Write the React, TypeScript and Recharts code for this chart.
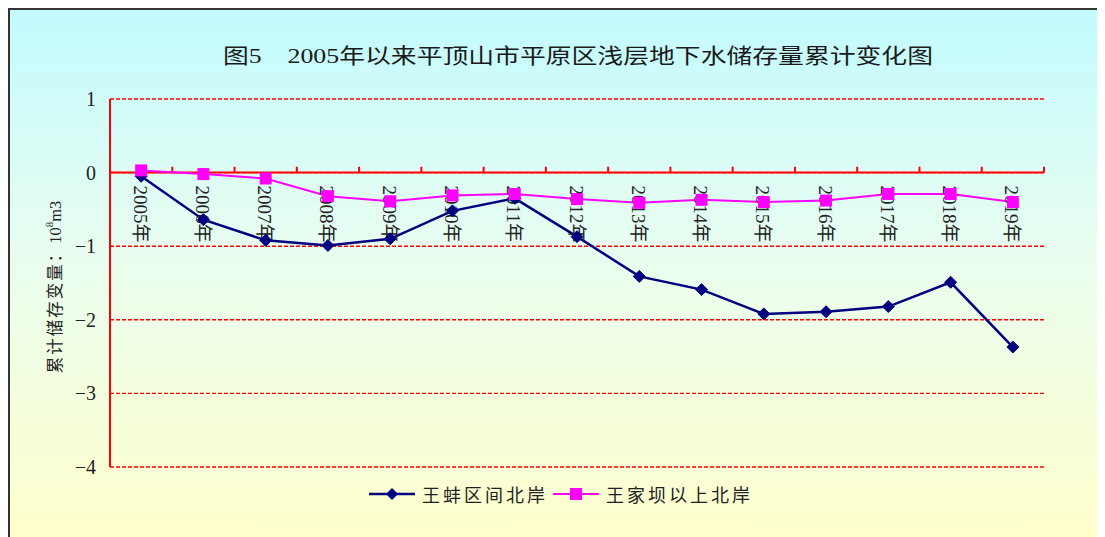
import React from 'react';
import {
  ComposedChart,
  Line,
  Scatter,
  XAxis,
  YAxis,
  CartesianGrid,
  ReferenceLine,
  Legend,
} from 'recharts';

const years = [
  '2005年', '2006年', '2007年', '2008年', '2009年', '2010年', '2011年', '2012年',
  '2013年', '2014年', '2015年', '2016年', '2017年', '2018年', '2019年',
];
const wangbeng = [
  -0.05, -0.64, -0.92, -0.99, -0.9, -0.52, -0.35, -0.87, -1.41, -1.59, -1.92, -1.89, -1.82, -1.49, -2.37,
];
const wangjiaba = [
  0.03, -0.02, -0.08, -0.32, -0.39, -0.31, -0.29, -0.36, -0.41, -0.37, -0.4, -0.38, -0.29, -0.29, -0.4,
];
const yTicks = [-4, -3, -2, -1, 0, 1];
const seriesNames = ['王蚌区间北岸', '王家坝以上北岸'];
const titleText = '图5　2005年以来平顶山市平原区浅层地下水储存量累计变化图';
const yLabelMain = '累计储存变量：';
const yLabelUnit = ['10', '8', 'm3'];

const rows = years.map((year, i) => ({
  year,
  pos: i + 0.5,
  wangbeng: wangbeng[i],
  wangjiaba: wangjiaba[i],
  zero: 0,
}));
const boundaries = Array.from({ length: years.length + 1 }, (_, i) => i);

const BLUE = '#000080';
const MAGENTA = '#ff00ff';
const RED = '#ff0000';
const SERIF = 'Liberation Serif, Times New Roman, DejaVu Serif, Noto Sans CJK SC, serif';
const CJK = 'Noto Sans CJK SC, sans-serif';

const Diamond = ({ cx, cy, r = 6 }: any) => (
  <polygon
    points={`${cx},${cy - r} ${cx + r},${cy} ${cx},${cy + r} ${cx - r},${cy}`}
    fill={BLUE}
    stroke={BLUE}
    strokeWidth={1}
  />
);
const Square = ({ cx, cy, r = 6 }: any) => (
  <rect x={cx - r} y={cy - r} width={2 * r} height={2 * r} fill={MAGENTA} />
);

const CategoryLabel = (props: any) => {
  const { cx, cy, payload } = props;
  if (cx == null || cy == null) return null;
  const x = cx - 1;
  const y = cy + 13;
  return (
    <text
      x={x}
      y={y}
      transform={`rotate(90 ${x} ${y})`}
      textAnchor="start"
      dominantBaseline="central"
      style={{ fontFamily: SERIF, fontSize: 19 }}
      fill="#222"
    >
      {payload.year}
    </text>
  );
};

const YTick = (props: any) => {
  const { x, y, payload } = props;
  const v = payload.value;
  return (
    <text
      x={x}
      y={y}
      textAnchor="end"
      dominantBaseline="central"
      style={{ fontFamily: SERIF, fontSize: 20 }}
      fill="#222"
    >
      {v < 0 ? '−' + Math.abs(v) : String(v)}
    </text>
  );
};

const LegendContent = () => (
  <div
    style={{
      display: 'flex',
      justifyContent: 'center',
      alignItems: 'center',
      height: 24,
      lineHeight: '24px',
      paddingLeft: 7,
      fontFamily: CJK,
      fontSize: 18,
      color: '#222',
    }}
  >
    {seriesNames.map((name, i) => (
      <div key={name} style={{ display: 'flex', alignItems: 'center', marginRight: i === 0 ? 5 : 0 }}>
        <svg width={46} height={14} style={{ display: 'block' }}>
          <line x1={0} y1={7} x2={46} y2={7} stroke={i === 0 ? BLUE : MAGENTA} strokeWidth={i === 0 ? 2.5 : 2} />
          {i === 0 ? <Diamond cx={23} cy={7} r={5.5} /> : <Square cx={23} cy={7} r={6} />}
        </svg>
        <span style={{ marginLeft: 7, letterSpacing: 3 }}>{name}</span>
      </div>
    ))}
  </div>
);

const YLabel = (props: any) => {
  const vb = props.viewBox || { x: 0, y: 89, width: 100, height: 368 };
  const x = vb.x + 45;
  const y = vb.y + vb.height / 2 + 4;
  return (
    <text
      x={x}
      y={y}
      transform={`rotate(-90 ${x} ${y})`}
      textAnchor="middle"
      dominantBaseline="central"
      style={{ fontFamily: SERIF, fontSize: 16.5 }}
      fill="#222"
    >
      <tspan letterSpacing={2}>{yLabelMain}</tspan>
      <tspan>{yLabelUnit[0]}</tspan>
      <tspan style={{ fontSize: 11 }} dy={-6}>{yLabelUnit[1]}</tspan>
      <tspan dy={6}>{yLabelUnit[2]}</tspan>
    </text>
  );
};

export default function App() {
  return (
    <div
      style={{
        position: 'relative',
        width: 1097,
        height: 529,
        boxSizing: 'border-box',
        borderTop: '2px solid #333',
        borderLeft: '2px solid #333',
        background: 'linear-gradient(to bottom, #c2fbfe 0%, #e8fdf0 45%, #ffffcc 100%)',
        overflow: 'hidden',
      }}
    >
      <svg
        width={1095}
        height={80}
        style={{ position: 'absolute', left: 0, top: 0, pointerEvents: 'none' }}
      >
        <text
          x={213}
          y={53}
          textLength={710}
          lengthAdjust="spacingAndGlyphs"
          style={{ fontFamily: SERIF, fontSize: 21 }}
          fill="#1a1a1a"
        >
          {titleText}
        </text>
      </svg>
      <ComposedChart
        width={1095}
        height={527}
        data={rows}
        margin={{ top: 89, right: 61, bottom: 70, left: 0 }}
      >
        <CartesianGrid
          horizontal
          vertical={false}
          stroke={RED}
          strokeWidth={1.4}
          strokeDasharray="4 2"
        />
        <XAxis type="number" dataKey="pos" domain={[0, years.length]} hide height={0} />
        <YAxis
          type="number"
          domain={[-4, 1]}
          ticks={yTicks}
          interval={0}
          width={100}
          axisLine={{ stroke: RED, strokeWidth: 2 }}
          tickLine={false}
          tickSize={6}
          tickMargin={8}
          tick={<YTick />}
          label={<YLabel />}
        />
        <ReferenceLine y={0} stroke={RED} strokeWidth={2} />
        {boundaries.map((b) => (
          <ReferenceLine
            key={'tick' + b}
            segment={[
              { x: b, y: 0 },
              { x: b, y: 0.08 },
            ]}
            stroke={RED}
            strokeWidth={2}
          />
        ))}
        <Scatter
          data={rows}
          dataKey="zero"
          shape={CategoryLabel}
          legendType="none"
          isAnimationActive={false}
        />
        <Line
          type="linear"
          dataKey="wangbeng"
          name={seriesNames[0]}
          stroke={BLUE}
          strokeWidth={2.5}
          dot={(p: any) => <Diamond key={'d' + p.index} cx={p.cx} cy={p.cy} />}
          activeDot={false}
          isAnimationActive={false}
        />
        <Line
          type="linear"
          dataKey="wangjiaba"
          name={seriesNames[1]}
          stroke={MAGENTA}
          strokeWidth={2}
          dot={(p: any) => <Square key={'s' + p.index} cx={p.cx} cy={p.cy} />}
          activeDot={false}
          isAnimationActive={false}
        />
        <Legend
          layout="horizontal"
          verticalAlign="middle"
          align="center"
          content={<LegendContent />}
          wrapperStyle={{ top: 472, left: 0, width: 1095, margin: 0 }}
        />
      </ComposedChart>
    </div>
  );
}
